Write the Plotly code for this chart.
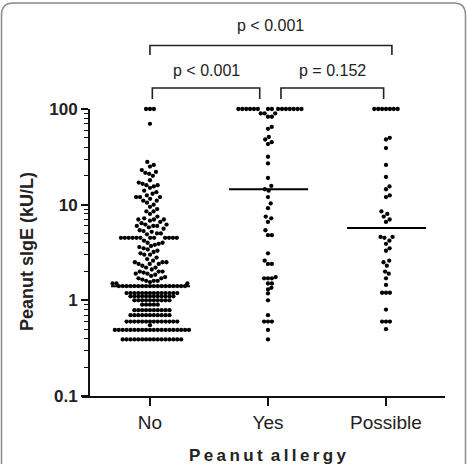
import numpy as np
import plotly.graph_objects as go

# ---------------- data ----------------
categories = ["No", "Yes", "Possible"]

no_vals = (
    [100, 100, 100, 70]
    + [28, 26, 25, 23, 22, 21.5, 21, 20, 18, 17, 16.5, 16, 16, 15.5, 15,
       14, 13.5, 13, 12.5, 12, 12, 12, 11.5, 11, 11, 10.5, 10,
       9.5, 9, 8.5, 8.5, 8, 7.5, 7.2, 7, 7, 7, 6.8, 6.6,
       6.4, 6.2, 6.2, 6, 6, 6, 5.8, 5.6, 5.4, 5.3, 5.2, 5, 5, 4.9]
    + [4.5] * 12
    + [4.2, 4, 4, 3.9, 3.8, 3.7, 3.6, 3.5, 3.4, 3.3, 3.2, 3.1, 3.0, 3.0,
       2.8, 2.7, 2.6, 2.5, 2.5, 2.5, 2.4, 2.4, 2.4, 2.3,
       2.2, 2.2, 2.1, 2.0, 2.0, 2.0, 1.95, 1.9, 1.9, 1.85, 1.8,
       1.75, 1.7, 1.7, 1.65, 1.6, 1.6, 1.6, 1.55]
    + [1.5] * 3 + [1.41] * 18 + [1.19] * 14 + [1.1] * 12 + [1.0] * 10
    + [0.9] * 5 + [0.79] * 10 + [0.7] * 11 + [0.6] * 14 + [0.55]
    + [0.49] * 20 + [0.39] * 16
)

yes_vals = (
    [100] * 15
    + [90, 90, 90, 83, 83, 65, 62, 51, 48, 45, 43, 31.7, 27, 19, 15.7, 14.5, 14,
       12, 10.3, 9.2, 7.5, 7.2, 6.6, 5.4, 4.8, 4.8, 3.1, 2.6, 2.4, 2.4,
       1.75, 1.7, 1.7, 1.7, 1.5, 1.5, 1.35, 1.3, 1.18, 1.0, 0.7, 0.6, 0.6, 0.6,
       0.49, 0.39]
)

possible_vals = (
    [100] * 7
    + [50, 48, 39, 26, 19.5, 15.5, 14.5, 12.5, 12, 8.5, 8, 7.5, 7, 6.6,
       4.6, 4.6, 4.5, 4.2, 3.9, 3.5, 3.3, 2.6, 2.5, 2.3, 2.0, 1.9, 1.7, 1.45,
       1.2, 1.2, 1.2, 0.8, 0.6, 0.6, 0.6, 0.5]
)

group_values = [no_vals, yes_vals, possible_vals]
medians = [1.4, 14.5, 5.7]

ytick_vals = [0.1, 1, 10, 100]
ytick_text = ["0.1", "1", "10", "100"]
minor_vals = [k * 10.0 ** e for e in (-1, 0, 1) for k in range(2, 10)]

comparisons = [
    # (from x, to x, label, level)
    (1.0, 3.05, "p < 0.001", 2),
    (1.02, 1.93, "p < 0.001", 1),
    (2.11, 2.98, "p = 0.152", 1),
]

# ---------------- layout geometry ----------------
W, H = 467, 464
ML, MR, MT, MB = 82, 22, 109, 68
XR = [0.424, 3.5]
YR = [-1, 2]
plot_w = W - ML - MR
plot_h = H - MT - MB
ppu_x = plot_w / (XR[1] - XR[0])
ppd_y = plot_h / (YR[1] - YR[0])


def px_x(px):
    return (px - ML) / plot_w


def px_y(py):
    return (H - MB - py) / plot_h


def swarm(vals, dx=3.9, dy_low=3.2, dy_high=6.5, split=1.52):
    """Simple beeswarm: offsets (px) so dots do not overlap."""
    v = np.asarray(vals, float)
    y = np.log10(v) * ppd_y
    dys = np.where(v > split, dy_high, dy_low)
    order = np.argsort(y, kind="stable")
    placed = []
    out = np.zeros(len(v))
    for i in order:
        yi = y[i]
        near = []
        cands = [0.0]
        for xp, yp, dyp in placed:
            dyy = min(dys[i], dyp)
            d = (yi - yp) / dyy
            if abs(d) < 1:
                h = dx * np.sqrt(1 - d * d)
                near.append((xp, h))
                cands += [xp + h, xp - h]

        def ok(x):
            return all(abs(x - xp) >= h - 1e-9 for xp, h in near)

        valid = [c for c in cands if ok(c)]
        best = min(valid, key=lambda c: (round(abs(c), 6), -c))
        out[i] = best
        placed.append((best, yi, dys[i]))
    return out


fig = go.Figure()
for gi, vals in enumerate(group_values):
    off = swarm(vals) / ppu_x
    fig.add_trace(go.Scatter(
        x=(gi + 1) + off, y=vals, mode="markers",
        marker=dict(size=4.3, color="black", line=dict(width=0)),
        showlegend=False, hoverinfo="y", cliponaxis=False,
    ))
    fig.add_trace(go.Scatter(
        x=[gi + 1 - 0.33, gi + 1 + 0.34], y=[medians[gi], medians[gi]],
        mode="lines", line=dict(color="black", width=2),
        showlegend=False, hoverinfo="skip", cliponaxis=False,
    ))

FONT = "Liberation Sans, Arial, sans-serif"
shapes = []
annotations = []
for x0, x1, label, level in comparisons:
    top = 45.5 if level == 2 else 88
    bot = 55 if level == 2 else 99
    ty = 26 if level == 2 else 70
    path = f"M {x0},{px_y(bot)} L {x0},{px_y(top)} L {x1},{px_y(top)} L {x1},{px_y(bot)}"
    shapes.append(dict(type="path", xref="x", yref="paper", path=path,
                       line=dict(color="#222", width=1.6)))
    annotations.append(dict(x=(x0 + x1) / 2, y=px_y(ty), xref="x", yref="paper",
                            text=label, showarrow=False,
                            font=dict(family=FONT, size=16, color="#222"),
                            xanchor="center", yanchor="middle"))

# rounded frame around the picture
r = 12
L_, R_, T_, B_ = 1.5, 465.5, 3.0, 490.0
frame = (f"M {px_x(L_)},{px_y(B_)} L {px_x(L_)},{px_y(T_ + r)} "
         f"Q {px_x(L_)},{px_y(T_)} {px_x(L_ + r)},{px_y(T_)} "
         f"L {px_x(R_ - r)},{px_y(T_)} "
         f"Q {px_x(R_)},{px_y(T_)} {px_x(R_)},{px_y(T_ + r)} "
         f"L {px_x(R_)},{px_y(B_)}")
shapes.append(dict(type="path", xref="paper", yref="paper", path=frame,
                   line=dict(color="#8a8a8a", width=1.5)))

# axis titles
annotations.append(dict(
    x=px_x(268), y=px_y(455), xref="paper", yref="paper",
    text="P\u2009e\u2009a\u2009n\u2009u\u2009t\u2009 a\u2009l\u2009l\u2009e\u2009r\u2009g\u2009y",
    showarrow=False, font=dict(family=FONT, size=17, color="#222", weight="bold"),
    xanchor="center", yanchor="middle"))
annotations.append(dict(
    x=px_x(27), y=px_y(252), xref="paper", yref="paper",
    text="Peanut sIgE (kU/L)", textangle=-90,
    showarrow=False, font=dict(family=FONT, size=18, color="#222", weight="bold"),
    xanchor="center", yanchor="middle"))

fig.update_layout(
    width=W, height=H,
    margin=dict(l=ML, r=MR, t=MT, b=MB, pad=0),
    paper_bgcolor="white", plot_bgcolor="white",
    shapes=shapes, annotations=annotations,
    xaxis=dict(
        range=XR, tickvals=[1, 2, 3], ticktext=categories,
        showline=True, linecolor="#111", linewidth=2,
        ticks="outside", ticklen=8, tickwidth=2, tickcolor="#111",
        tickfont=dict(family=FONT, size=19, color="#222"),
        showgrid=False, zeroline=False,
    ),
    yaxis=dict(
        type="log", range=YR, anchor="free", position=px_x(89),
        tickvals=ytick_vals, ticktext=ytick_text,
        showline=True, linecolor="#111", linewidth=2,
        ticks="outside", ticklen=7, tickwidth=2, tickcolor="#111",
        tickfont=dict(family=FONT, size=17, color="#222", weight="bold"),
        minor=dict(tickvals=minor_vals, ticks="outside", ticklen=4,
                   tickwidth=1, tickcolor="#111", showgrid=False),
        showgrid=False, zeroline=False,
    ),
)

fig.write_html("out.html")
